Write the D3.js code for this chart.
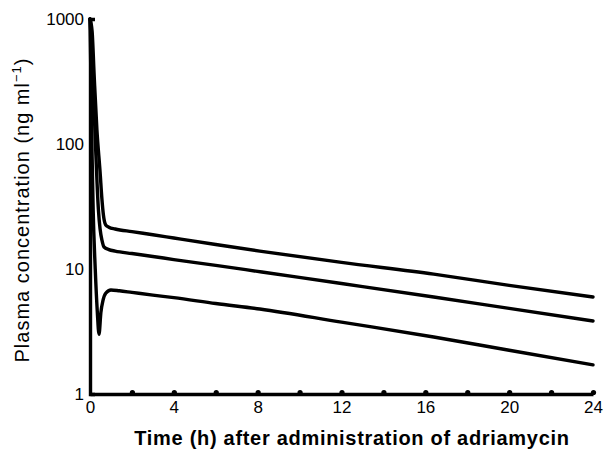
<!DOCTYPE html>
<html>
<head>
<meta charset="utf-8">
<script src="https://cdn.jsdelivr.net/npm/d3@7"></script>
<style>
  body { margin: 0; background: #fff; }
  .chart { width: 607px; height: 450px; }
  text { font-family: "Liberation Sans", Arial, sans-serif; fill: #000; }
</style>
</head>
<body>
<div class="chart"></div>
<script>
// values (hours, ng/ml)
const hoursTop = [0, 0.1, 0.2, 0.33, 0.48, 0.57, 0.64, 0.75, 0.9, 1.2, 2, 3, 4, 6, 8.1, 12, 16.4, 20, 24];
const concTop  = [1000, 800, 350, 130, 60, 36, 27, 22.5, 21.6, 20.9, 19.9, 18.8, 17.7, 15.7, 13.9, 11.3, 9.1, 7.4, 5.97];

const hoursMid = [0, 0.1, 0.25, 0.4, 0.48, 0.57, 0.67, 0.9, 1.2, 2, 3, 4, 6, 8.2, 12, 16.4, 20, 24];
const concMid  = [1000, 500, 110, 30, 21, 17, 15, 14.3, 13.9, 13.3, 12.6, 11.9, 10.7, 9.46, 7.65, 5.97, 4.84, 3.84];

const hoursLow = [0, 0.05, 0.1, 0.15, 0.25, 0.35, 0.43, 0.52, 0.62, 0.75, 1.0, 1.4, 2, 3, 4, 6, 8.1, 12, 16.4, 20, 24];
const concLow  = [1000, 300, 80, 30, 10, 4.5, 3.0, 4.5, 5.6, 6.4, 6.8, 6.7, 6.5, 6.18, 5.9, 5.3, 4.79, 3.76, 2.86, 2.24, 1.71];

const xTicks = [0, 2, 4, 6, 8, 10, 12, 14, 16, 18, 20, 22, 24];
const yTicks = [1, 10, 100, 1000];

const xTitle = "Time (h) after administration of adriamycin";
const yTitle = "Plasma concentration (ng ml";

let chart = {};

chart.margin = { top: 19, right: 14, bottom: 56, left: 90 };
chart.width = 607 - chart.margin.left - chart.margin.right;
chart.height = 450 - chart.margin.top - chart.margin.bottom;

chart.xScale = d3.scaleLinear().domain([0, 24]).range([0, chart.width]);
chart.yScale = d3.scaleLog().domain([1, 1000]).range([chart.height, 0]);

chart.svg = d3.select(".chart").append("svg")
    .attr("width", 607)
    .attr("height", 450);

chart.plot = chart.svg.append("g")
    .attr("transform", `translate(${chart.margin.left},${chart.margin.top})`);

// curves
let line = d3.line()
    .x(d => chart.xScale(d[0]))
    .y(d => chart.yScale(d[1]))
    .curve(d3.curveMonotoneX);

let series = [
    d3.zip(hoursTop, concTop),
    d3.zip(hoursMid, concMid),
    d3.zip(hoursLow, concLow)
];

chart.plot.selectAll(".curve")
    .data(series)
    .join("path")
    .attr("class", "curve")
    .attr("d", line)
    .attr("fill", "none")
    .attr("stroke", "#000")
    .attr("stroke-width", 3.4)
    .attr("stroke-linejoin", "round")
    .attr("stroke-linecap", "round");

// y axis
chart.yAxis = chart.plot.append("g")
    .call(d3.axisLeft(chart.yScale)
        .tickValues(yTicks)
        .tickFormat(d3.format("d"))
        .tickSizeInner(0)
        .tickSizeOuter(-5)
        .tickPadding(6));

chart.yAxis.select(".domain").attr("stroke-width", 3.4);
chart.yAxis.selectAll("text").attr("font-size", 17).attr("font-family", null);

// x axis
chart.xAxis = chart.plot.append("g")
    .attr("transform", `translate(0,${chart.height})`)
    .call(d3.axisBottom(chart.xScale)
        .tickValues(xTicks)
        .tickFormat(d => d % 4 === 0 ? d : "")
        .tickSize(0)
        .tickPadding(7));

chart.xAxis.select(".domain").attr("stroke-width", 3.4);
chart.xAxis.selectAll("text").attr("font-size", 17).attr("font-family", null);
chart.xAxis.selectAll(".tick")
    .filter(d => d > 0)
    .append("circle")
    .attr("cy", -1.5)
    .attr("r", 2.6)
    .attr("fill", "#000");

// titles
chart.svg.append("text")
    .attr("x", 352)
    .attr("y", 445)
    .attr("text-anchor", "middle")
    .attr("font-size", 20)
    .attr("letter-spacing", 0.7)
    .attr("font-weight", "bold")
    .text(xTitle);

let yt = chart.svg.append("text")
    .attr("transform", "translate(29,210) rotate(-90)")
    .attr("text-anchor", "middle")
    .attr("font-size", 20)
    .attr("letter-spacing", 1);
yt.append("tspan").text(yTitle);
yt.append("tspan").attr("dy", -8).attr("font-size", 13).text("\u22121");
yt.append("tspan").attr("dy", 8).text(")");
</script>
</body>
</html>
